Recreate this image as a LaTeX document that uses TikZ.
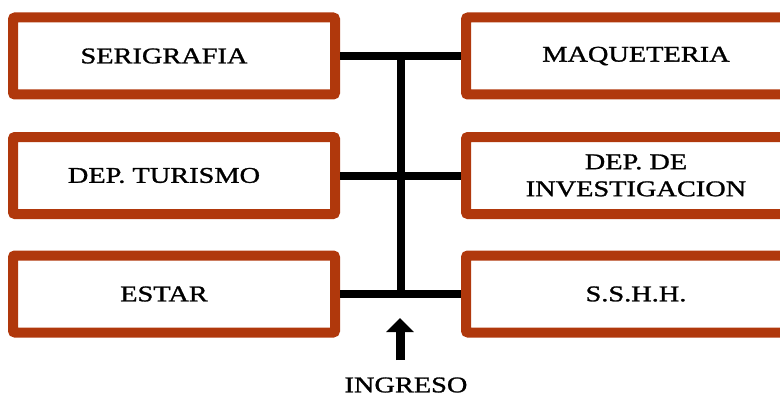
\documentclass[tikz,border=0pt]{standalone}
\usepackage{fontspec}
\setmainfont{Liberation Serif}
\newfontfamily\planfont[FakeStretch=1.26, FakeBold=1.2]{Liberation Serif}
\usepackage{tikz}
\usetikzlibrary{arrows.meta, positioning, calc}
\definecolor{brick1}{RGB}{176,56,12}

\begin{document}
\begin{tikzpicture}[x=1pt, y=-1pt,
    every node/.style={anchor=center, font=\planfont\fontsize{22.5}{27}\selectfont},
    roomframe/.style={rectangle, draw=brick1, line width=10pt, rounded corners=2pt, minimum height=77pt, align=center},
    leftroom/.style={roomframe, minimum width=322pt, execute at begin node={\hspace*{-20pt}}},
    rightroom/.style={roomframe, minimum width=340pt},
    myline/.style={black, line width=8pt},
    myarrow/.style={-{Triangle[width=27pt,length=14pt]}, black, line width=9pt}
]
\useasboundingbox (0,0) rectangle (780,396);
\clip (0,0) rectangle (780,396);

% rooms on the left
\node[leftroom] (serigrafia) at (174,56) {SERIGRAFIA};
\node[leftroom] (turismo) at (174,175.5) {DEP. TURISMO};
\node[leftroom] (estar) at (174,294) {ESTAR};

% rooms on the right
\node[rightroom] (maqueteria) at (636,56) {MAQUETERIA};
\node[rightroom] (investigacion) at (636,175.5) {DEP. DE\\INVESTIGACION};
\node[rightroom] (sshh) at (636,294) {S.S.H.H.};

% corridor
\draw[myline] (serigrafia) -- (maqueteria);
\draw[myline] (turismo) -- (investigacion);
\draw[myline] (estar) -- (sshh);
\coordinate (spinetop) at ($(serigrafia.east)!.5!(maqueteria.west)$);
\coordinate (spinebot) at ($(estar.east)!.5!(sshh.west)$);
\draw[myline] (spinetop) -- (spinebot);

% entrance
\node (ingreso) at (406,385) {INGRESO};
\coordinate (doorfoot) at (400,360);
\coordinate (door) at (400,318);
\draw[myarrow] (doorfoot) -- (door);

\end{tikzpicture}
\end{document}
